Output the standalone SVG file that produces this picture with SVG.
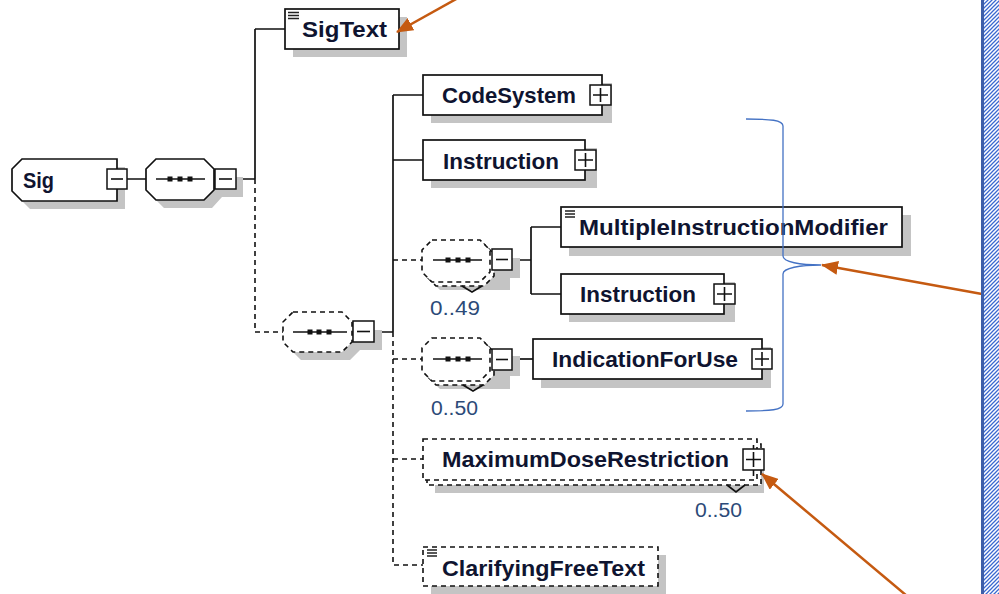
<svg xmlns="http://www.w3.org/2000/svg" width="999" height="594" viewBox="0 0 999 594">
<style>
.box{fill:#fff;stroke:#111;stroke-width:1.7}
.dbox{fill:#fff;stroke:#111;stroke-width:1.6;stroke-dasharray:5 4}
.sh{fill:#c4c4c4;stroke:none}
.lbl{font-family:"Liberation Sans",Arial,sans-serif;font-weight:bold;font-size:22px;fill:#0f1430}
.num{font-family:"Liberation Sans",Arial,sans-serif;font-size:20px;fill:#2c4a78}
.ln{stroke:#111;stroke-width:1.7;fill:none}
.dl{stroke:#111;stroke-width:1.6;fill:none;stroke-dasharray:5 4}
.pm{fill:#fff;stroke:#111;stroke-width:1.5}
.sg{stroke:#111;stroke-width:1.6}
.ic{stroke:#222;stroke-width:1.4}
.arr{stroke:#c55a11;stroke-width:2.5;fill:none;marker-end:url(#ah)}
</style>
<defs>
<marker id="ah" markerUnits="userSpaceOnUse" markerWidth="18" markerHeight="14" refX="16" refY="7" orient="auto">
<path d="M0,0 L17,7 L0,14 z" fill="#c55a11"/>
</marker>
<pattern id="hatch" patternUnits="userSpaceOnUse" width="4" height="4">
<rect width="4" height="4" fill="#fff"/>
<path d="M-1,1 L1,-1 M0,4 L4,0 M3,5 L5,3" stroke="#3a68d0" stroke-width="1.25"/>
</pattern>
</defs>
<rect width="999" height="594" fill="#fff"/>

<g id="connectors">
<path class="ln" d="M127,179 H146 M236,179 H255 M255,29 V179 M255,29 H285"/>
<path class="dl" d="M255,179 V332 H283"/>
<path class="ln" d="M374,332 H393 M393,95 V332 M393,95 H423 M393,160 H423"/>
<path class="dl" d="M393,332 V565 H423 M393,260 H422 M393,359 H422 M393,459 H423"/>
<path class="ln" d="M512,260 H531 M531,227 V294 M531,227 H561 M531,294 H561"/>
<path class="ln" d="M512,359 H533"/>
</g>

<g id="node-sig">
<path class="sh" d="M30,167 H125 V209 H30 L20,199 V177 Z"/>
<path class="box" d="M22,159 H117 V201 H22 L12,191 V169 Z"/>
<text class="lbl" x="23" y="188" textLength="31" lengthAdjust="spacingAndGlyphs">Sig</text>
<rect class="pm" x="107" y="169" width="20" height="20"/>
<line class="sg" x1="111" y1="179" x2="123" y2="179"/>
</g>

<g id="node-seq1">
<polygon class="sh" points="164,167 212,167 222,177 243,177 243,197 222,197 212,208 164,208 154,198 154,177"/>
<polygon class="box" points="156,159 204,159 214,169 214,190 204,200 156,200 146,190 146,169"/>
<line class="ln" x1="156" y1="179" x2="205" y2="179"/>
<rect x="167.5" y="176.5" width="5" height="5" fill="#111"/>
<rect x="177.5" y="176.5" width="5" height="5" fill="#111"/>
<rect x="187.5" y="176.5" width="5" height="5" fill="#111"/>
<rect class="pm" x="215" y="169" width="21" height="20"/>
<line class="sg" x1="219" y1="179" x2="232" y2="179"/>
</g>

<g id="node-sigtext">
<rect class="sh" x="293" y="17" width="114" height="40"/>
<rect class="box" x="285" y="9" width="114" height="40"/>
<path class="ic" d="M288,12.5 H299 M288,15.5 H299 M288,18.5 H299"/>
<text class="lbl" x="302" y="37" textLength="85" lengthAdjust="spacingAndGlyphs">SigText</text>
</g>

<g id="node-seq2">
<polygon class="sh" points="301,320 350,320 360,330 382,330 382,350 360,350 350,360 301,360 291,350 291,330"/>
<polygon class="dbox" points="293,312 342,312 352,322 352,342 342,352 293,352 283,342 283,322"/>
<line class="ln" x1="293" y1="332" x2="347" y2="332"/>
<rect x="307.5" y="329.5" width="5" height="5" fill="#111"/>
<rect x="316.5" y="329.5" width="5" height="5" fill="#111"/>
<rect x="326.5" y="329.5" width="5" height="5" fill="#111"/>
<rect class="pm" x="353" y="321" width="21" height="21"/>
<line class="sg" x1="357" y1="331.5" x2="370" y2="331.5"/>
</g>

<g id="node-codesystem">
<rect class="sh" x="431" y="83" width="181" height="40"/>
<rect class="box" x="423" y="75" width="179" height="40"/>
<text class="lbl" x="442" y="103" textLength="134" lengthAdjust="spacingAndGlyphs">CodeSystem</text>
<rect class="pm" x="590" y="85" width="21" height="20"/>
<path class="sg" d="M593,95 H608 M600.5,88 V102"/>
</g>

<g id="node-instruction">
<rect class="sh" x="431" y="148" width="166" height="40"/>
<rect class="box" x="423" y="140" width="162" height="40"/>
<text class="lbl" x="443" y="169" textLength="116" lengthAdjust="spacingAndGlyphs">Instruction</text>
<rect class="pm" x="575" y="150" width="21" height="20"/>
<path class="sg" d="M578,160 H593 M585.5,153 V167"/>
</g>

<g id="node-seq3">
<polygon class="sh" points="440,248 488,248 498,258 520,258 520,278 510,278 510,290 440,290 430,280 430,258"/>
<polygon class="dbox" points="436,244 484,244 494,254 494,276 484,286 436,286 426,276 426,254"/>
<path class="ln" d="M462,286 L472,292 L482,286" stroke-width="1.2"/>
<polygon class="dbox" points="432,240 480,240 490,250 490,272 480,282 432,282 422,272 422,250"/>
<line class="ln" x1="433" y1="260" x2="482" y2="260"/>
<rect x="445.5" y="257.5" width="5" height="5" fill="#111"/>
<rect x="455.5" y="257.5" width="5" height="5" fill="#111"/>
<rect x="465.5" y="257.5" width="5" height="5" fill="#111"/>
<rect class="pm" x="492" y="249" width="20" height="21"/>
<line class="sg" x1="496" y1="259.5" x2="508" y2="259.5"/>
<text class="num" x="430" y="315" textLength="50" lengthAdjust="spacingAndGlyphs">0..49</text>
</g>

<g id="node-mim">
<rect class="sh" x="569" y="215" width="342" height="41"/>
<rect class="box" x="561" y="207" width="341" height="40"/>
<path class="ic" d="M565,211 H575 M565,214 H575 M565,217 H575"/>
<text class="lbl" x="579" y="235" textLength="309" lengthAdjust="spacingAndGlyphs">MultipleInstructionModifier</text>
</g>

<g id="node-instruction2">
<rect class="sh" x="569" y="282" width="166" height="40"/>
<rect class="box" x="561" y="274" width="163" height="40"/>
<text class="lbl" x="580" y="302" textLength="116" lengthAdjust="spacingAndGlyphs">Instruction</text>
<rect class="pm" x="714" y="284" width="21" height="20"/>
<path class="sg" d="M717,294 H732 M724.5,287 V301"/>
</g>

<g id="node-seq4">
<polygon class="sh" points="440,346 488,346 498,356 520,356 520,376 510,376 510,389 440,389 430,379 430,356"/>
<polygon class="dbox" points="436,342 484,342 494,352 494,375 484,385 436,385 426,375 426,352"/>
<path class="ln" d="M463,385 L473,391 L483,385" stroke-width="1.2"/>
<polygon class="dbox" points="432,338 480,338 490,348 490,371 480,381 432,381 422,371 422,348"/>
<line class="ln" x1="433" y1="359" x2="482" y2="359"/>
<rect x="445.5" y="356.5" width="5" height="5" fill="#111"/>
<rect x="455.5" y="356.5" width="5" height="5" fill="#111"/>
<rect x="465.5" y="356.5" width="5" height="5" fill="#111"/>
<rect class="pm" x="492" y="349" width="20" height="21"/>
<line class="sg" x1="496" y1="359.5" x2="508" y2="359.5"/>
<text class="num" x="431" y="415" textLength="47" lengthAdjust="spacingAndGlyphs">0..50</text>
</g>

<g id="node-indicationforuse">
<rect class="sh" x="541" y="347" width="230" height="41"/>
<rect class="box" x="533" y="339" width="229" height="40"/>
<text class="lbl" x="552" y="367" textLength="186" lengthAdjust="spacingAndGlyphs">IndicationForUse</text>
<rect class="pm" x="752" y="349" width="20" height="20"/>
<path class="sg" d="M755,359 H769 M762,352 V366"/>
</g>

<g id="node-maxdose">
<rect class="sh" x="435" y="448" width="329" height="45"/>
<rect class="dbox" x="427" y="444" width="334" height="41"/>
<path class="ln" d="M727,485 L736,492 L745,485" stroke-width="1.2"/>
<rect class="dbox" x="423" y="439" width="334" height="41"/>
<text class="lbl" x="442" y="467" textLength="287" lengthAdjust="spacingAndGlyphs">MaximumDoseRestriction</text>
<path class="sg" d="M753.5,445 V449 M753.5,470 V476" stroke-width="1.4"/>
<rect class="pm" x="743" y="449" width="21" height="21"/>
<path class="sg" d="M746,459.5 H761 M753.5,452 V467"/>
<text class="num" x="695" y="517" textLength="47" lengthAdjust="spacingAndGlyphs">0..50</text>
</g>

<g id="node-clarifying">
<rect class="sh" x="431" y="555" width="235" height="39"/>
<rect class="dbox" x="423" y="547" width="235" height="39"/>
<path class="ic" d="M427,550 H437 M427,553 H437 M427,556 H437"/>
<text class="lbl" x="442" y="576" textLength="203" lengthAdjust="spacingAndGlyphs">ClarifyingFreeText</text>
</g>

<g id="brace">
<path d="M746,119 C770,119 783,120 783,126 V256 C783,262 800,265 821,265 C800,265 783,268 783,274 V404 C783,410 770,411 746,411" fill="none" stroke="#4472c4" stroke-width="1.3"/>
</g>

<g id="arrows">
<line class="arr" x1="458" y1="-2" x2="397" y2="32"/>
<line class="arr" x1="982" y1="294" x2="822" y2="265"/>
<line class="arr" x1="907" y1="596" x2="762" y2="474"/>
</g>

<g id="border">
<rect x="984" y="0" width="15" height="594" fill="url(#hatch)"/>
<line x1="982.5" y1="0" x2="982.5" y2="594" stroke="#3d5ea8" stroke-width="3"/>
</g>
</svg>
